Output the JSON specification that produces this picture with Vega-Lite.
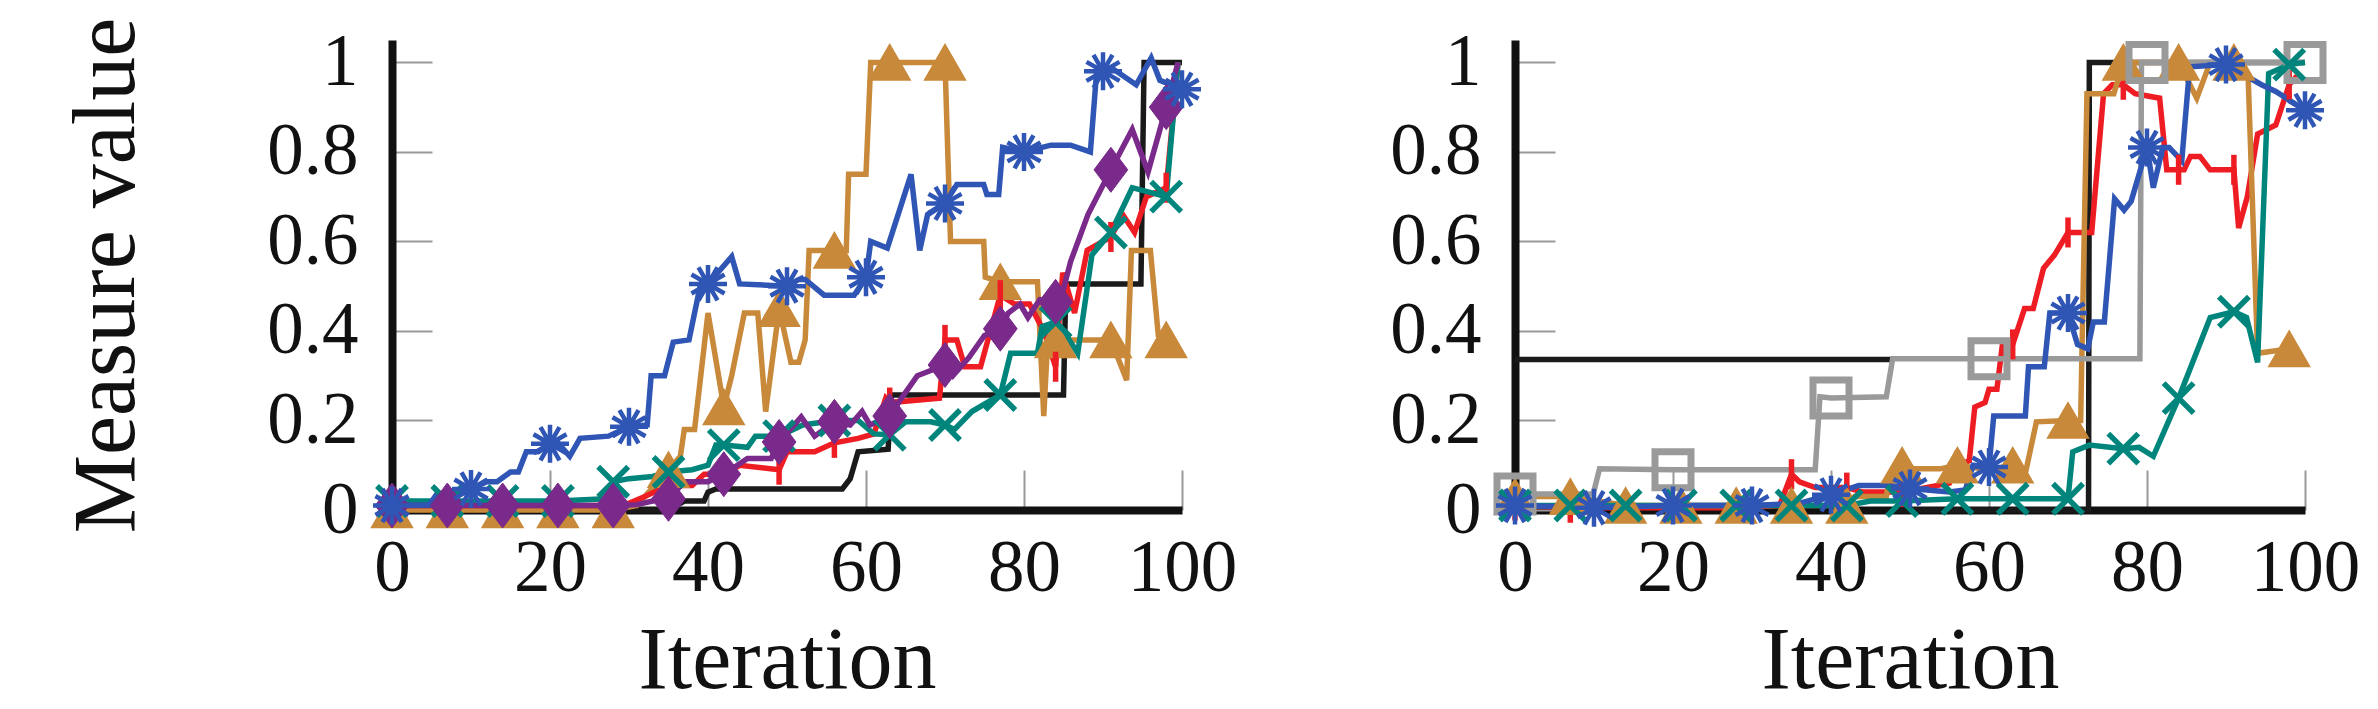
{
  "$schema": "https://vega.github.io/schema/vega-lite/v6.json",
  "background": "white",
  "padding": {"left": 63, "top": 17, "right": 5, "bottom": 12},
  "config": {
    "view": {"stroke": null},
    "font": "Liberation Serif",
    "axis": {
      "domainColor": "#111111", "domainWidth": 8, "tickColor": "#999999", "tickWidth": 2, "tickSize": -40,
      "labelFont": "Liberation Serif", "labelFontSize": 73, "labelColor": "#111111", "labelOverlap": false, "labelFlush": false,
      "titleFont": "Liberation Serif", "titleFontSize": 88, "titleFontWeight": "normal", "titleColor": "#111111", "grid": false
    }
  },
  "datasets": {
    "L": [
      {"s":"black","x":0,"y":0},{"s":"black","x":35,"y":0},{"s":"black","x":37,"y":0.02},{"s":"black","x":39.5,"y":0.02},{"s":"black","x":40,"y":0.04},{"s":"black","x":41,"y":0.047},{"s":"black","x":57,"y":0.047},{"s":"black","x":58,"y":0.07},{"s":"black","x":59,"y":0.13},{"s":"black","x":62.8,"y":0.136},{"s":"black","x":63.2,"y":0.257},{"s":"black","x":85,"y":0.257},{"s":"black","x":85.3,"y":0.505},{"s":"black","x":94.8,"y":0.505},{"s":"black","x":95.2,"y":1},{"s":"black","x":100,"y":1},

      {"s":"orange","x":0,"y":0,"m":1},{"s":"orange","x":7,"y":0,"m":1},{"s":"orange","x":14,"y":0,"m":1},{"s":"orange","x":21,"y":0,"m":1},{"s":"orange","x":28,"y":0,"m":1},{"s":"orange","x":31,"y":0.01},{"s":"orange","x":33,"y":0.05},{"s":"orange","x":35,"y":0.09,"m":1},{"s":"orange","x":36.5,"y":0.12},{"s":"orange","x":37,"y":0.18},{"s":"orange","x":38.3,"y":0.18},{"s":"orange","x":40,"y":0.44},{"s":"orange","x":42,"y":0.23,"m":1},{"s":"orange","x":43,"y":0.3},{"s":"orange","x":44.6,"y":0.44},{"s":"orange","x":46.3,"y":0.44},{"s":"orange","x":47.3,"y":0.22},{"s":"orange","x":49,"y":0.45,"m":1},{"s":"orange","x":50.5,"y":0.33},{"s":"orange","x":51.5,"y":0.33},{"s":"orange","x":52.3,"y":0.38},{"s":"orange","x":52.8,"y":0.58},{"s":"orange","x":56,"y":0.58,"m":1},{"s":"orange","x":57.5,"y":0.58},{"s":"orange","x":57.8,"y":0.75},{"s":"orange","x":60,"y":0.75},{"s":"orange","x":60.6,"y":1},{"s":"orange","x":63,"y":1,"m":1},{"s":"orange","x":70,"y":1,"m":1},{"s":"orange","x":70.7,"y":0.6},{"s":"orange","x":74.9,"y":0.6},{"s":"orange","x":75.1,"y":0.52},{"s":"orange","x":77,"y":0.51,"m":1},{"s":"orange","x":81.7,"y":0.51},{"s":"orange","x":82.5,"y":0.21},{"s":"orange","x":83,"y":0.38},{"s":"orange","x":84,"y":0.38,"m":1},{"s":"orange","x":87.5,"y":0.38},{"s":"orange","x":91,"y":0.38,"m":1},{"s":"orange","x":93,"y":0.29},{"s":"orange","x":93.6,"y":0.58},{"s":"orange","x":96,"y":0.58},{"s":"orange","x":97,"y":0.39},{"s":"orange","x":98,"y":0.38,"m":1},

      {"s":"red","x":0,"y":0.01,"m":1},{"s":"red","x":7,"y":0.01,"m":1},{"s":"red","x":14,"y":0.01,"m":1},{"s":"red","x":21,"y":0.01,"m":1},{"s":"red","x":28,"y":0.01,"m":1},{"s":"red","x":30,"y":0.015},{"s":"red","x":32,"y":0.03},{"s":"red","x":35,"y":0.055,"m":1},{"s":"red","x":38,"y":0.055},{"s":"red","x":39.5,"y":0.08},{"s":"red","x":42,"y":0.08,"m":1},{"s":"red","x":44,"y":0.1},{"s":"red","x":49,"y":0.09,"m":1},{"s":"red","x":50,"y":0.13},{"s":"red","x":53.5,"y":0.13},{"s":"red","x":56,"y":0.15,"m":1},{"s":"red","x":59,"y":0.16},{"s":"red","x":61,"y":0.17},{"s":"red","x":62.5,"y":0.25},{"s":"red","x":63,"y":0.24,"m":1},{"s":"red","x":69.3,"y":0.25},{"s":"red","x":70,"y":0.38,"m":1},{"s":"red","x":71.5,"y":0.38},{"s":"red","x":72.5,"y":0.32},{"s":"red","x":74.5,"y":0.32},{"s":"red","x":77,"y":0.48,"m":1},{"s":"red","x":78.8,"y":0.46},{"s":"red","x":80.7,"y":0.46},{"s":"red","x":82.5,"y":0.4},{"s":"red","x":84,"y":0.32,"m":1},{"s":"red","x":84.9,"y":0.53},{"s":"red","x":86.4,"y":0.44},{"s":"red","x":88,"y":0.58},{"s":"red","x":91,"y":0.61,"m":1},{"s":"red","x":92.5,"y":0.66},{"s":"red","x":94,"y":0.62},{"s":"red","x":95.5,"y":0.7},{"s":"red","x":98,"y":0.72,"m":1},{"s":"red","x":99.5,"y":1},

      {"s":"teal","x":0,"y":0.02,"m":1},{"s":"teal","x":7,"y":0.02,"m":1},{"s":"teal","x":14,"y":0.02,"m":1},{"s":"teal","x":21,"y":0.02,"m":1},{"s":"teal","x":27,"y":0.025},{"s":"teal","x":28,"y":0.063,"m":1},{"s":"teal","x":30,"y":0.07},{"s":"teal","x":33,"y":0.075},{"s":"teal","x":35,"y":0.085,"m":1},{"s":"teal","x":38,"y":0.09},{"s":"teal","x":40,"y":0.1},{"s":"teal","x":41,"y":0.145},{"s":"teal","x":42,"y":0.145,"m":1},{"s":"teal","x":45,"y":0.14},{"s":"teal","x":46,"y":0.165},{"s":"teal","x":49,"y":0.165,"m":1},{"s":"teal","x":52,"y":0.19},{"s":"teal","x":56,"y":0.2,"m":1},{"s":"teal","x":59,"y":0.2},{"s":"teal","x":61,"y":0.17},{"s":"teal","x":63,"y":0.168,"m":1},{"s":"teal","x":65,"y":0.197},{"s":"teal","x":68.2,"y":0.197},{"s":"teal","x":70,"y":0.19,"m":1},{"s":"teal","x":71.2,"y":0.18},{"s":"teal","x":73.4,"y":0.22},{"s":"teal","x":77,"y":0.257,"m":1},{"s":"teal","x":78.3,"y":0.35},{"s":"teal","x":81.7,"y":0.35},{"s":"teal","x":82.3,"y":0.41},{"s":"teal","x":84,"y":0.42,"m":1},{"s":"teal","x":85,"y":0.4},{"s":"teal","x":86.8,"y":0.35},{"s":"teal","x":88.6,"y":0.57},{"s":"teal","x":91,"y":0.62,"m":1},{"s":"teal","x":93.7,"y":0.72},{"s":"teal","x":98,"y":0.7,"m":1},{"s":"teal","x":99.5,"y":1},

      {"s":"purple","x":0,"y":0.01,"m":1},{"s":"purple","x":7,"y":0.01,"m":1},{"s":"purple","x":14,"y":0.01,"m":1},{"s":"purple","x":21,"y":0.01,"m":1},{"s":"purple","x":28,"y":0.01,"m":1},{"s":"purple","x":31,"y":0.012},{"s":"purple","x":33,"y":0.02},{"s":"purple","x":35,"y":0.025,"m":1},{"s":"purple","x":37,"y":0.063},{"s":"purple","x":40,"y":0.063},{"s":"purple","x":42,"y":0.08,"m":1},{"s":"purple","x":45,"y":0.115},{"s":"purple","x":48,"y":0.115},{"s":"purple","x":49,"y":0.152,"m":1},{"s":"purple","x":51.8,"y":0.208},{"s":"purple","x":53.5,"y":0.165},{"s":"purple","x":56,"y":0.197,"m":1},{"s":"purple","x":58,"y":0.19},{"s":"purple","x":59.5,"y":0.22},{"s":"purple","x":60.5,"y":0.19},{"s":"purple","x":63,"y":0.21,"m":1},{"s":"purple","x":64.5,"y":0.25},{"s":"purple","x":66.5,"y":0.3},{"s":"purple","x":70,"y":0.324,"m":1},{"s":"purple","x":71,"y":0.3},{"s":"purple","x":73,"y":0.34},{"s":"purple","x":75,"y":0.39},{"s":"purple","x":77,"y":0.405,"m":1},{"s":"purple","x":78,"y":0.44},{"s":"purple","x":79.5,"y":0.46},{"s":"purple","x":80.5,"y":0.43},{"s":"purple","x":82,"y":0.47},{"s":"purple","x":84,"y":0.465,"m":1},{"s":"purple","x":85,"y":0.494},{"s":"purple","x":85.9,"y":0.555},{"s":"purple","x":88.1,"y":0.66},{"s":"purple","x":91,"y":0.76,"m":1},{"s":"purple","x":93.7,"y":0.85},{"s":"purple","x":95.7,"y":0.755},{"s":"purple","x":98,"y":0.9,"m":1},{"s":"purple","x":99.5,"y":1},

      {"s":"blue","x":0,"y":0.01,"m":1},{"s":"blue","x":4.7,"y":0.011},{"s":"blue","x":5.6,"y":0.034},{"s":"blue","x":8,"y":0.04},{"s":"blue","x":10,"y":0.047,"m":1},{"s":"blue","x":12,"y":0.063},{"s":"blue","x":13.3,"y":0.063},{"s":"blue","x":15,"y":0.085},{"s":"blue","x":16,"y":0.085},{"s":"blue","x":17,"y":0.13},{"s":"blue","x":18.5,"y":0.13},{"s":"blue","x":20,"y":0.148,"m":1},{"s":"blue","x":21,"y":0.15},{"s":"blue","x":22.5,"y":0.12},{"s":"blue","x":23.8,"y":0.16},{"s":"blue","x":27.4,"y":0.165},{"s":"blue","x":30,"y":0.186,"m":1},{"s":"blue","x":32.3,"y":0.19},{"s":"blue","x":32.8,"y":0.3},{"s":"blue","x":34.5,"y":0.3},{"s":"blue","x":35.6,"y":0.375},{"s":"blue","x":37.6,"y":0.38},{"s":"blue","x":39,"y":0.5},{"s":"blue","x":40,"y":0.505,"m":1},{"s":"blue","x":43,"y":0.566},{"s":"blue","x":44,"y":0.505},{"s":"blue","x":50,"y":0.5,"m":1},{"s":"blue","x":51.5,"y":0.515},{"s":"blue","x":52.3,"y":0.515},{"s":"blue","x":54.7,"y":0.48},{"s":"blue","x":58.5,"y":0.48},{"s":"blue","x":60,"y":0.52,"m":1},{"s":"blue","x":60.6,"y":0.6},{"s":"blue","x":62.7,"y":0.585},{"s":"blue","x":65.7,"y":0.75},{"s":"blue","x":66.8,"y":0.58},{"s":"blue","x":67.8,"y":0.66},{"s":"blue","x":70,"y":0.685,"m":1},{"s":"blue","x":71.5,"y":0.727},{"s":"blue","x":74.9,"y":0.727},{"s":"blue","x":75.3,"y":0.705},{"s":"blue","x":76.8,"y":0.705},{"s":"blue","x":77.3,"y":0.81},{"s":"blue","x":80,"y":0.8,"m":1},{"s":"blue","x":83.4,"y":0.815},{"s":"blue","x":85.9,"y":0.815},{"s":"blue","x":88.4,"y":0.8},{"s":"blue","x":89.2,"y":0.98},{"s":"blue","x":90,"y":0.98,"m":1},{"s":"blue","x":91.3,"y":0.985},{"s":"blue","x":94.2,"y":0.95},{"s":"blue","x":96.1,"y":1.01},{"s":"blue","x":97.2,"y":0.96},{"s":"blue","x":100,"y":0.94,"m":1}
    ],
    "R": [
      {"s":"black","x":0,"y":0.336},{"s":"black","x":47.7,"y":0.336},
      {"s":"black2","x":47.8,"y":0},{"s":"black2","x":72.6,"y":0},{"s":"black2","x":72.7,"y":1},{"s":"black2","x":100,"y":1},

      {"s":"red","x":0,"y":0.01,"m":1},{"s":"red","x":7,"y":0.005,"m":1},{"s":"red","x":14,"y":0.005,"m":1},{"s":"red","x":21,"y":0.005,"m":1},{"s":"red","x":28,"y":0.005,"m":1},{"s":"red","x":33.5,"y":0.01},{"s":"red","x":35,"y":0.08,"m":1},{"s":"red","x":36,"y":0.063},{"s":"red","x":38,"y":0.05},{"s":"red","x":42,"y":0.05,"m":1},{"s":"red","x":44,"y":0.04},{"s":"red","x":49,"y":0.04,"m":1},{"s":"red","x":52,"y":0.05},{"s":"red","x":55,"y":0.06},{"s":"red","x":56,"y":0.1,"m":1},{"s":"red","x":57.5,"y":0.11},{"s":"red","x":58.2,"y":0.23},{"s":"red","x":59.5,"y":0.24},{"s":"red","x":60,"y":0.27},{"s":"red","x":61,"y":0.27},{"s":"red","x":61.7,"y":0.37},{"s":"red","x":63,"y":0.37,"m":1},{"s":"red","x":64.5,"y":0.45},{"s":"red","x":65.6,"y":0.45},{"s":"red","x":66.9,"y":0.54},{"s":"red","x":68.3,"y":0.57},{"s":"red","x":70,"y":0.62,"m":1},{"s":"red","x":73,"y":0.62},{"s":"red","x":74.5,"y":0.93},{"s":"red","x":75.6,"y":0.95},{"s":"red","x":77,"y":0.95,"m":1},{"s":"red","x":78.5,"y":0.93},{"s":"red","x":81.6,"y":0.92},{"s":"red","x":82.5,"y":0.76},{"s":"red","x":84,"y":0.76,"m":1},{"s":"red","x":84.7,"y":0.76},{"s":"red","x":85.5,"y":0.79},{"s":"red","x":86.7,"y":0.79},{"s":"red","x":88,"y":0.76},{"s":"red","x":91,"y":0.76,"m":1},{"s":"red","x":91.6,"y":0.63},{"s":"red","x":92.7,"y":0.7},{"s":"red","x":94,"y":0.84},{"s":"red","x":96.3,"y":0.86},{"s":"red","x":98,"y":0.95,"m":1},{"s":"red","x":99,"y":0.97},

      {"s":"orange","x":0,"y":0.03,"m":1},{"s":"orange","x":7,"y":0.03,"m":1},{"s":"orange","x":14,"y":0.01,"m":1},{"s":"orange","x":21,"y":0.01,"m":1},{"s":"orange","x":28,"y":0.01,"m":1},{"s":"orange","x":35,"y":0.01,"m":1},{"s":"orange","x":42,"y":0.01,"m":1},{"s":"orange","x":43,"y":0.03},{"s":"orange","x":47,"y":0.03},{"s":"orange","x":47.5,"y":0.08},{"s":"orange","x":49,"y":0.1,"m":1},{"s":"orange","x":50.5,"y":0.092},{"s":"orange","x":53.8,"y":0.092},{"s":"orange","x":56,"y":0.1,"m":1},{"s":"orange","x":60,"y":0.09},{"s":"orange","x":63,"y":0.1,"m":1},{"s":"orange","x":64.7,"y":0.09},{"s":"orange","x":66,"y":0.197},{"s":"orange","x":70,"y":0.2,"m":1},{"s":"orange","x":71.6,"y":0.2},{"s":"orange","x":72.4,"y":0.93},{"s":"orange","x":75.8,"y":0.93},{"s":"orange","x":77,"y":1,"m":1},{"s":"orange","x":84,"y":1,"m":1},{"s":"orange","x":86.3,"y":0.92},{"s":"orange","x":88,"y":1},{"s":"orange","x":91,"y":1,"m":1},{"s":"orange","x":92.8,"y":0.97},{"s":"orange","x":94,"y":0.35},{"s":"orange","x":98,"y":0.36,"m":1},

      {"s":"gray","x":0,"y":0.036,"m":1},{"s":"gray","x":9.9,"y":0.036},{"s":"gray","x":10.7,"y":0.092},{"s":"gray","x":20,"y":0.09,"m":1},{"s":"gray","x":38,"y":0.09},{"s":"gray","x":38.6,"y":0.253},{"s":"gray","x":40,"y":0.25,"m":1},{"s":"gray","x":47,"y":0.253},{"s":"gray","x":47.8,"y":0.338},{"s":"gray","x":60,"y":0.338,"m":1},{"s":"gray","x":79.1,"y":0.338},{"s":"gray","x":79.3,"y":1},{"s":"gray","x":80,"y":1,"m":1},{"s":"gray","x":100,"y":1,"m":1},

      {"s":"teal","x":0,"y":0.01,"m":1},{"s":"teal","x":7,"y":0.01,"m":1},{"s":"teal","x":14,"y":0.01,"m":1},{"s":"teal","x":21,"y":0.01,"m":1},{"s":"teal","x":28,"y":0.01,"m":1},{"s":"teal","x":35,"y":0.01,"m":1},{"s":"teal","x":42,"y":0.01,"m":1},{"s":"teal","x":45,"y":0.02},{"s":"teal","x":49,"y":0.02,"m":1},{"s":"teal","x":56,"y":0.025,"m":1},{"s":"teal","x":63,"y":0.025,"m":1},{"s":"teal","x":70,"y":0.025,"m":1},{"s":"teal","x":70.6,"y":0.13},{"s":"teal","x":72.7,"y":0.145},{"s":"teal","x":77,"y":0.137,"m":1},{"s":"teal","x":79,"y":0.14},{"s":"teal","x":80.8,"y":0.12},{"s":"teal","x":84,"y":0.25,"m":1},{"s":"teal","x":88,"y":0.43},{"s":"teal","x":91,"y":0.443,"m":1},{"s":"teal","x":92.6,"y":0.43},{"s":"teal","x":94,"y":0.33},{"s":"teal","x":95.4,"y":0.975},{"s":"teal","x":98,"y":0.995,"m":1},{"s":"teal","x":100,"y":1},

      {"s":"blue","x":0,"y":0.01,"m":1},{"s":"blue","x":10,"y":0.005,"m":1},{"s":"blue","x":20,"y":0.01,"m":1},{"s":"blue","x":30,"y":0.01,"m":1},{"s":"blue","x":36,"y":0.015},{"s":"blue","x":38,"y":0.025},{"s":"blue","x":40,"y":0.034,"m":1},{"s":"blue","x":43.5,"y":0.055},{"s":"blue","x":47.6,"y":0.055},{"s":"blue","x":50,"y":0.048,"m":1},{"s":"blue","x":55,"y":0.04},{"s":"blue","x":57,"y":0.045},{"s":"blue","x":58,"y":0.1},{"s":"blue","x":60,"y":0.096,"m":1},{"s":"blue","x":60.6,"y":0.21},{"s":"blue","x":64.6,"y":0.21},{"s":"blue","x":65,"y":0.32},{"s":"blue","x":67,"y":0.32},{"s":"blue","x":67.7,"y":0.44},{"s":"blue","x":70,"y":0.44,"m":1},{"s":"blue","x":71.2,"y":0.37},{"s":"blue","x":72.5,"y":0.36},{"s":"blue","x":73.2,"y":0.42},{"s":"blue","x":74.6,"y":0.42},{"s":"blue","x":75.9,"y":0.695},{"s":"blue","x":77.1,"y":0.67},{"s":"blue","x":78,"y":0.69},{"s":"blue","x":80,"y":0.81,"m":1},{"s":"blue","x":80.8,"y":0.72},{"s":"blue","x":82,"y":0.81},{"s":"blue","x":82.8,"y":0.81},{"s":"blue","x":84.4,"y":0.78},{"s":"blue","x":85.4,"y":0.99},{"s":"blue","x":90,"y":0.995,"m":1},{"s":"blue","x":94.5,"y":0.95},{"s":"blue","x":96.3,"y":0.935},{"s":"blue","x":100,"y":0.893,"m":1}
    ]
  },
  "hconcat": [
    {
      "width": 790, "height": 470,
      "data": {"name": "L"},
      "encoding": {
        "x": {"field": "x", "type": "quantitative", "scale": {"domain": [0, 100], "nice": false, "zero": false},
              "axis": {"values": [0, 20, 40, 60, 80, 100], "title": "Iteration", "labelPadding": 62, "titlePadding": 12}},
        "y": {"field": "y", "type": "quantitative", "scale": {"domain": [0, 1.05], "nice": false, "zero": false},
              "axis": {"values": [0, 0.2, 0.4, 0.6, 0.8, 1], "format": "~g", "title": "Measure value", "labelPadding": 74, "titlePadding": 115}}
      },
      "layer": [
        {"mark": {"type": "line", "strokeWidth": 5.5, "clip": false},
         "encoding": {"color": {"field": "s", "type": "nominal", "legend": null,
           "scale": {"domain": ["black", "black2", "gray", "orange", "red", "teal", "purple", "blue"], "range": ["#1a1a1a", "#1a1a1a", "#9a9a9a", "#C8893A", "#EE1D24", "#00857C", "#7A2A8A", "#2F55B5"]}}}},
        {"transform": [{"filter": "datum.m === 1 && datum.s === 'orange'"}],
         "mark": {"type": "point", "shape": "triangle-up", "size": 1600, "filled": true, "color": "#C8893A", "stroke": "#C8893A", "strokeWidth": 2, "opacity": 1}},
        {"transform": [{"filter": "datum.m === 1 && datum.s === 'red'"}],
         "mark": {"type": "point", "shape": "M0,-1L0,1", "size": 900, "filled": false, "color": "#EE1D24", "strokeWidth": 5.5, "opacity": 1}},
        {"transform": [{"filter": "datum.m === 1 && datum.s === 'teal'"}],
         "mark": {"type": "point", "shape": "M-1,-1L1,1M-1,1L1,-1", "size": 900, "filled": false, "color": "#00857C", "strokeWidth": 5.5, "opacity": 1}},
        {"transform": [{"filter": "datum.m === 1 && datum.s === 'purple'"}],
         "mark": {"type": "point", "shape": "M0,-1L0.75,0L0,1L-0.75,0Z", "size": 2025, "filled": true, "color": "#7A2A8A", "stroke": "#7A2A8A", "strokeWidth": 1, "opacity": 1}},
        {"transform": [{"filter": "datum.m === 1 && datum.s === 'blue'"}],
         "mark": {"type": "point", "shape": "M-1,0L1,0M-0.87,-0.5L0.87,0.5M-0.5,-0.87L0.5,0.87M0,-1L0,1M0.5,-0.87L-0.5,0.87M0.87,-0.5L-0.87,0.5", "size": 1444, "filled": false, "color": "#2F55B5", "strokeWidth": 4.5, "opacity": 1}}
      ]
    },
    {
      "width": 790, "height": 470,
      "data": {"name": "R"},
      "encoding": {
        "x": {"field": "x", "type": "quantitative", "scale": {"domain": [0, 100], "nice": false, "zero": false},
              "axis": {"values": [0, 20, 40, 60, 80, 100], "title": "Iteration", "labelPadding": 62, "titlePadding": 12}},
        "y": {"field": "y", "type": "quantitative", "scale": {"domain": [0, 1.05], "nice": false, "zero": false},
              "axis": {"values": [0, 0.2, 0.4, 0.6, 0.8, 1], "format": "~g", "title": null, "labelPadding": 74}}
      },
      "layer": [
        {"mark": {"type": "line", "strokeWidth": 5.5, "clip": false},
         "encoding": {"color": {"field": "s", "type": "nominal", "legend": null,
           "scale": {"domain": ["black", "black2", "gray", "orange", "red", "teal", "purple", "blue"], "range": ["#1a1a1a", "#1a1a1a", "#9a9a9a", "#C8893A", "#EE1D24", "#00857C", "#7A2A8A", "#2F55B5"]}}}},
        {"transform": [{"filter": "datum.m === 1 && datum.s === 'red'"}],
         "mark": {"type": "point", "shape": "M0,-1L0,1", "size": 900, "filled": false, "color": "#EE1D24", "strokeWidth": 5.5, "opacity": 1}},
        {"transform": [{"filter": "datum.m === 1 && datum.s === 'orange'"}],
         "mark": {"type": "point", "shape": "triangle-up", "size": 1600, "filled": true, "color": "#C8893A", "stroke": "#C8893A", "strokeWidth": 2, "opacity": 1}},
        {"transform": [{"filter": "datum.m === 1 && datum.s === 'gray'"}],
         "mark": {"type": "point", "shape": "square", "size": 1296, "filled": false, "color": "#9a9a9a", "strokeWidth": 7, "opacity": 1}},
        {"transform": [{"filter": "datum.m === 1 && datum.s === 'teal'"}],
         "mark": {"type": "point", "shape": "M-1,-1L1,1M-1,1L1,-1", "size": 900, "filled": false, "color": "#00857C", "strokeWidth": 5.5, "opacity": 1}},
        {"transform": [{"filter": "datum.m === 1 && datum.s === 'blue'"}],
         "mark": {"type": "point", "shape": "M-1,0L1,0M-0.87,-0.5L0.87,0.5M-0.5,-0.87L0.5,0.87M0,-1L0,1M0.5,-0.87L-0.5,0.87M0.87,-0.5L-0.87,0.5", "size": 1444, "filled": false, "color": "#2F55B5", "strokeWidth": 4.5, "opacity": 1}}
      ]
    }
  ],
  "spacing": 152
}
